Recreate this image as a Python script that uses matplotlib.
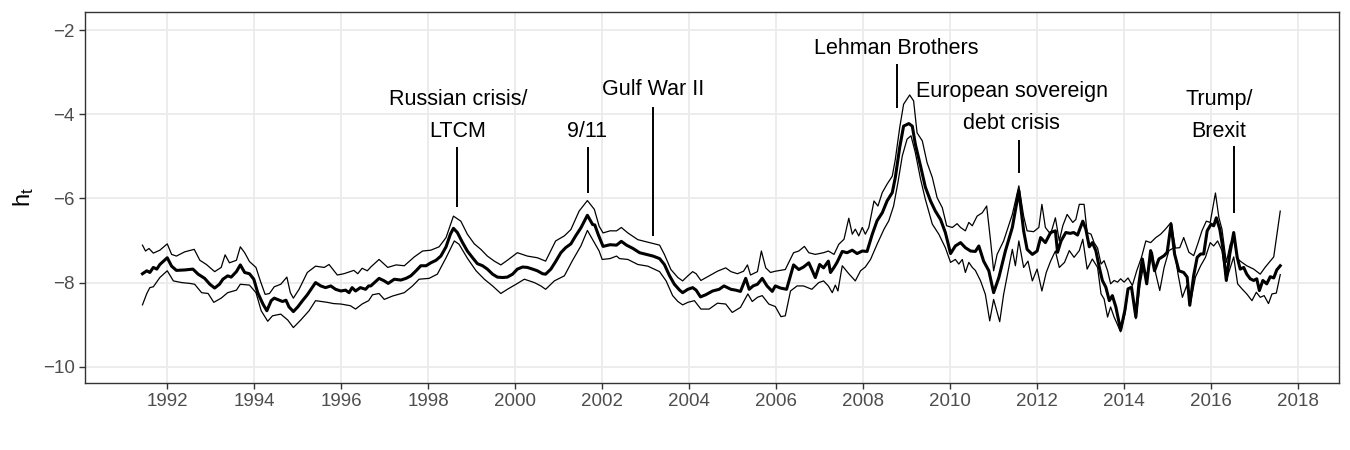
import numpy as np
import matplotlib
matplotlib.use('Agg')
import matplotlib.pyplot as plt

plt.rcParams['font.family'] = ['Liberation Sans', 'DejaVu Sans']
plt.rcParams['mathtext.fontset'] = 'custom'
plt.rcParams['mathtext.rm'] = 'Liberation Sans'
plt.rcParams['mathtext.it'] = 'Liberation Sans'

# posterior median of h_t (decimal year, value)
mid_t = [1991.43, 1991.53, 1991.60, 1991.68, 1991.76, 1991.83, 1992.00, 1992.10, 1992.21, 1992.40,
         1992.59, 1992.71, 1992.86, 1992.98, 1993.09, 1993.20, 1993.28, 1993.39, 1993.47, 1993.59,
         1993.68, 1993.78, 1993.89, 1993.99, 1994.08, 1994.20, 1994.29, 1994.39, 1994.46, 1994.58,
         1994.65, 1994.73, 1994.80, 1994.90, 1995.00, 1995.11, 1995.22, 1995.41, 1995.53, 1995.64,
         1995.76, 1995.87, 1995.99, 1996.10, 1996.18, 1996.25, 1996.33, 1996.44, 1996.56, 1996.63,
         1996.68, 1996.87, 1996.99, 1997.08, 1997.22, 1997.37, 1997.49, 1997.60, 1997.72, 1997.83,
         1997.95, 1998.06, 1998.18, 1998.29, 1998.41, 1998.51, 1998.58, 1998.67, 1998.79, 1998.90,
         1999.02, 1999.13, 1999.25, 1999.36, 1999.48, 1999.59, 1999.71, 1999.82, 1999.94, 2000.05,
         2000.17, 2000.28, 2000.40, 2000.51, 2000.63, 2000.70, 2000.82, 2000.93, 2001.05, 2001.16,
         2001.28, 2001.39, 2001.51, 2001.66, 2001.78,
         2001.83, 2001.91, 2002.02, 2002.18, 2002.33, 2002.44, 2002.56, 2002.71, 2002.86, 2003.01,
         2003.17, 2003.32, 2003.43, 2003.55, 2003.66, 2003.78, 2003.85, 2003.97, 2004.08, 2004.16,
         2004.26, 2004.38, 2004.54, 2004.69, 2004.80, 2004.96, 2005.07, 2005.18, 2005.30, 2005.38,
         2005.47, 2005.57, 2005.68, 2005.79, 2005.91, 2005.98, 2006.10, 2006.24, 2006.40, 2006.52,
         2006.63, 2006.75, 2006.82, 2006.90, 2007.00, 2007.09, 2007.20,
         2007.25, 2007.33, 2007.40, 2007.52, 2007.63, 2007.75, 2007.86, 2007.98, 2008.09, 2008.21,
         2008.32, 2008.44, 2008.55, 2008.67, 2008.74, 2008.84, 2008.93, 2009.05, 2009.13, 2009.20,
         2009.32, 2009.43, 2009.55, 2009.66, 2009.78, 2009.89, 2010.01, 2010.12, 2010.24, 2010.35,
         2010.47, 2010.58, 2010.66, 2010.77, 2010.89, 2011.00, 2011.12, 2011.27, 2011.43, 2011.58,
         2011.69, 2011.77, 2011.89, 2012.00, 2012.08, 2012.19, 2012.31, 2012.42,
         2012.47, 2012.55, 2012.66, 2012.76, 2012.84, 2012.93, 2013.05, 2013.12, 2013.20, 2013.27,
         2013.35, 2013.43, 2013.50, 2013.58, 2013.66, 2013.73, 2013.81, 2013.92, 2014.02, 2014.09,
         2014.17, 2014.27, 2014.34, 2014.42, 2014.52, 2014.61, 2014.70, 2014.80, 2014.92, 2014.99,
         2015.08, 2015.16, 2015.26, 2015.37, 2015.45, 2015.51, 2015.60, 2015.68, 2015.76, 2015.83,
         2015.91, 2016.00, 2016.06, 2016.12, 2016.20, 2016.27, 2016.35, 2016.43, 2016.52, 2016.60,
         2016.67, 2016.75, 2016.82, 2016.90, 2016.98, 2017.05, 2017.11, 2017.19, 2017.28, 2017.36,
         2017.44, 2017.51, 2017.59]
mid_v = [-7.79, -7.72, -7.76, -7.64, -7.68, -7.57, -7.41, -7.61, -7.71, -7.70,
         -7.68, -7.80, -7.90, -8.04, -8.13, -8.04, -7.92, -7.84, -7.87, -7.74,
         -7.58, -7.76, -7.79, -7.92, -8.24, -8.51, -8.67, -8.43, -8.37, -8.42,
         -8.45, -8.42, -8.58, -8.69, -8.58, -8.43, -8.29, -8.00, -8.08, -8.12,
         -8.08, -8.16, -8.20, -8.18, -8.24, -8.12, -8.20, -8.12, -8.16, -8.08,
         -8.08, -7.90, -7.96, -8.02, -7.92, -7.94, -7.90, -7.84, -7.72, -7.60,
         -7.60, -7.53, -7.47, -7.37, -7.15, -6.85, -6.71, -6.81, -7.05, -7.25,
         -7.41, -7.55, -7.60, -7.68, -7.80, -7.87, -7.88, -7.87, -7.80, -7.68,
         -7.63, -7.64, -7.68, -7.72, -7.79, -7.80, -7.68, -7.50, -7.29, -7.17,
         -7.08, -6.89, -6.70, -6.40, -6.62,
         -6.63, -6.86, -7.14, -7.10, -7.11, -7.02, -7.11, -7.19, -7.29, -7.33,
         -7.37, -7.43, -7.57, -7.84, -8.04, -8.18, -8.24, -8.16, -8.12, -8.18,
         -8.34, -8.29, -8.20, -8.16, -8.08, -8.16, -8.18, -8.21, -7.90, -8.16,
         -8.08, -8.04, -7.90, -8.08, -8.21, -8.08, -8.13, -8.16, -7.58, -7.69,
         -7.63, -7.53, -7.69, -7.88, -7.57, -7.65, -7.49,
         -7.76, -7.64, -7.52, -7.26, -7.29, -7.23, -7.31, -7.25, -7.26, -6.85,
         -6.53, -6.34, -6.06, -5.86, -5.50, -4.79, -4.28, -4.22, -4.28, -4.71,
         -5.23, -5.73, -6.06, -6.30, -6.50, -6.81, -7.31, -7.13, -7.05, -7.17,
         -7.25, -7.26, -7.13, -7.49, -7.72, -8.24, -7.88, -7.25, -6.69, -5.82,
         -6.77, -7.21, -7.33, -7.25, -6.93, -7.05, -6.81, -6.77,
         -7.28, -7.01, -6.81, -6.83, -6.81, -6.87, -6.54, -6.73, -7.15, -7.05,
         -7.24, -7.64, -7.95, -8.11, -8.43, -8.31, -8.58, -9.13, -8.65, -8.15,
         -8.11, -8.82, -8.03, -7.44, -8.03, -7.24, -7.72, -7.44, -7.36, -7.28,
         -6.61, -7.32, -7.72, -7.76, -7.87, -8.54, -7.83, -7.40, -7.32, -7.32,
         -6.77, -6.61, -6.65, -6.46, -6.73, -7.17, -7.95, -7.32, -6.81, -7.40,
         -7.68, -7.64, -7.80, -7.91, -7.95, -7.91, -8.19, -7.95, -8.03, -7.86,
         -7.89, -7.70, -7.60]

# upper band
up_t = [1991.43, 1991.50, 1991.58, 1991.68, 1991.83, 1992.00, 1992.10, 1992.21, 1992.40, 1992.62,
        1992.75, 1992.90, 1993.09, 1993.24, 1993.33, 1993.43, 1993.59, 1993.68, 1993.78, 1993.89,
        1994.04, 1994.14, 1994.25, 1994.35, 1994.46, 1994.61, 1994.75, 1994.83, 1994.90, 1995.03,
        1995.22, 1995.41, 1995.61, 1995.72, 1995.91, 1996.06, 1996.29, 1996.38, 1996.48, 1996.60,
        1996.68, 1996.87, 1997.07, 1997.26, 1997.45, 1997.68, 1997.87, 1998.06, 1998.25, 1998.41,
        1998.58, 1998.75, 1998.90, 1999.06, 1999.21, 1999.36, 1999.52, 1999.67, 1999.82, 2000.05,
        2000.28, 2000.51, 2000.70, 2000.93, 2001.13, 2001.28, 2001.47, 2001.66, 2001.82, 2001.93,
        2002.02, 2002.18, 2002.33, 2002.44, 2002.59, 2002.82, 2003.05, 2003.32, 2003.43, 2003.58,
        2003.74, 2003.85, 2003.97, 2004.08, 2004.16, 2004.27, 2004.46, 2004.65, 2004.84, 2004.96,
        2005.11, 2005.25, 2005.34, 2005.41, 2005.57, 2005.66, 2005.76, 2005.87, 2005.98, 2006.21,
        2006.40, 2006.52, 2006.65, 2006.75, 2006.90, 2007.09, 2007.20,
        2007.33, 2007.44, 2007.56, 2007.67, 2007.75, 2007.82, 2007.90, 2007.98, 2008.05, 2008.13,
        2008.25, 2008.34, 2008.44, 2008.55, 2008.67, 2008.74, 2008.84, 2008.93, 2009.07, 2009.16,
        2009.24, 2009.36, 2009.47, 2009.59, 2009.70, 2009.82, 2009.92, 2010.05, 2010.16, 2010.24,
        2010.35, 2010.43, 2010.51, 2010.62, 2010.74, 2010.84, 2010.93, 2011.00, 2011.08, 2011.23,
        2011.43, 2011.58, 2011.69, 2011.77, 2011.92, 2012.04, 2012.11, 2012.19, 2012.31, 2012.42,
        2012.51, 2012.59, 2012.69, 2012.82, 2012.89, 2012.97, 2013.08, 2013.15, 2013.24, 2013.31,
        2013.39, 2013.47, 2013.54, 2013.62, 2013.69, 2013.77, 2013.85, 2013.92, 2014.00, 2014.09,
        2014.19, 2014.29, 2014.40, 2014.50, 2014.61, 2014.73, 2014.84, 2014.95, 2015.08, 2015.18,
        2015.28, 2015.37, 2015.49, 2015.60, 2015.69, 2015.79, 2015.89, 2015.98, 2016.10, 2016.18,
        2016.25, 2016.35, 2016.44, 2016.52, 2016.61, 2016.71, 2016.82, 2016.98, 2017.13, 2017.24,
        2017.44, 2017.59]
up_v = [-7.11, -7.25, -7.19, -7.30, -7.23, -7.08, -7.33, -7.37, -7.27, -7.21,
        -7.47, -7.57, -7.74, -7.64, -7.34, -7.53, -7.47, -7.15, -7.29, -7.50,
        -7.64, -7.96, -8.28, -8.26, -8.10, -8.04, -7.87, -8.24, -8.37, -8.16,
        -7.76, -7.61, -7.64, -7.57, -7.82, -7.79, -7.71, -7.79, -7.66, -7.72,
        -7.63, -7.45, -7.64, -7.58, -7.60, -7.39, -7.25, -7.23, -7.15, -6.93,
        -6.42, -6.54, -6.85, -7.08, -7.21, -7.37, -7.49, -7.58, -7.47, -7.29,
        -7.37, -7.41, -7.49, -7.01, -6.89, -6.74, -6.30, -6.05, -6.26, -6.66,
        -6.82, -6.77, -6.77, -6.69, -6.82, -6.98, -7.04, -7.11, -7.33, -7.69,
        -7.88, -7.96, -7.84, -7.74, -7.79, -7.95, -7.84, -7.73, -7.65, -7.74,
        -7.79, -7.73, -7.58, -7.82, -7.74, -7.25, -7.65, -7.76, -7.73, -7.69,
        -7.29, -7.25, -7.14, -7.29, -7.33, -7.29, -7.25,
        -7.33, -7.09, -6.97, -6.47, -6.85, -6.73, -6.89, -6.69, -6.85, -6.69,
        -6.06, -6.18, -5.86, -5.66, -5.47, -5.07, -4.32, -3.76, -3.54, -3.68,
        -4.44, -4.63, -5.15, -5.50, -5.98, -6.22, -6.65, -6.69, -6.60, -6.69,
        -6.77, -6.57, -6.65, -6.42, -6.34, -6.18, -7.01, -7.72, -7.33, -7.01,
        -6.38, -5.70, -6.42, -6.77, -6.79, -6.69, -6.14, -6.69, -6.85, -6.46,
        -7.01, -6.65, -6.38, -6.57, -6.50, -6.14, -6.14, -6.81, -6.85, -7.05,
        -7.18, -7.56, -7.48, -7.72, -8.03, -7.95, -7.99, -7.91, -7.99, -7.89,
        -8.07, -7.72, -7.40, -7.01, -7.05, -6.93, -6.85, -6.73, -6.57, -7.18,
        -7.17, -6.93, -7.28, -7.36, -7.09, -6.77, -6.54, -6.57, -5.87, -6.46,
        -6.73, -7.52, -7.09, -6.93, -7.44, -7.52, -7.60, -7.68, -7.80, -7.64,
        -7.39, -6.30]

# lower band
lo_t = [1991.43, 1991.53, 1991.60, 1991.68, 1991.83, 1992.00, 1992.14, 1992.33, 1992.52, 1992.63,
        1992.79, 1992.94, 1993.07, 1993.24, 1993.39, 1993.59, 1993.68, 1993.89, 1994.04, 1994.16,
        1994.31, 1994.42, 1994.61, 1994.77, 1994.90, 1995.07, 1995.26, 1995.41, 1995.68, 1995.83,
        1995.99, 1996.21, 1996.33, 1996.48, 1996.63,
        1996.72, 1996.87, 1996.99, 1997.18, 1997.45, 1997.64, 1997.79, 1998.02, 1998.21, 1998.41,
        1998.60, 1998.71, 1998.90, 1999.10, 1999.29, 1999.48, 1999.67, 1999.82, 2000.02, 2000.21,
        2000.44, 2000.59, 2000.70, 2000.90, 2001.13, 2001.32, 2001.51, 2001.66, 2001.82, 2001.93,
        2002.00, 2002.18, 2002.33, 2002.40, 2002.59, 2002.82, 2003.05, 2003.32, 2003.47, 2003.62,
        2003.74, 2003.85, 2003.97, 2004.12, 2004.27, 2004.46, 2004.65, 2004.84, 2004.99, 2005.18,
        2005.35, 2005.45, 2005.57, 2005.68, 2005.83, 2005.98, 2006.11, 2006.21, 2006.33, 2006.48,
        2006.63, 2006.82, 2006.98, 2007.09, 2007.20,
        2007.29, 2007.36, 2007.42, 2007.52, 2007.67, 2007.82, 2007.94, 2008.05, 2008.17, 2008.32,
        2008.48, 2008.59, 2008.70, 2008.80, 2008.90, 2009.01, 2009.10, 2009.20, 2009.32, 2009.43,
        2009.59, 2009.74, 2009.89, 2010.01, 2010.12, 2010.20, 2010.28, 2010.35, 2010.43, 2010.51,
        2010.58, 2010.70, 2010.81, 2010.91, 2011.00, 2011.14, 2011.23, 2011.35, 2011.43, 2011.50,
        2011.58, 2011.69, 2011.79, 2011.89, 2012.00, 2012.11, 2012.21, 2012.31, 2012.42,
        2012.51, 2012.63, 2012.74, 2012.85, 2012.97, 2013.05, 2013.15, 2013.27, 2013.39, 2013.47,
        2013.54, 2013.62, 2013.69, 2013.77, 2013.92, 2014.02, 2014.09, 2014.17, 2014.27, 2014.37,
        2014.44, 2014.53, 2014.65, 2014.73, 2014.82, 2014.92, 2015.03, 2015.15, 2015.24, 2015.34,
        2015.44, 2015.53, 2015.64, 2015.76, 2015.87, 2015.98, 2016.06, 2016.15, 2016.25, 2016.35,
        2016.43, 2016.52, 2016.61, 2016.71, 2016.82, 2016.94, 2017.04, 2017.13, 2017.22, 2017.32,
        2017.40, 2017.50, 2017.59]
lo_v = [-8.53, -8.26, -8.12, -8.10, -7.88, -7.72, -7.96, -8.00, -8.02, -8.04,
        -8.24, -8.26, -8.47, -8.37, -8.24, -8.18, -8.04, -8.06, -8.24, -8.67,
        -8.92, -8.79, -8.75, -8.89, -9.07, -8.89, -8.67, -8.43, -8.47, -8.50,
        -8.51, -8.55, -8.63, -8.51, -8.43,
        -8.29, -8.26, -8.40, -8.32, -8.24, -8.08, -7.92, -7.90, -7.80, -7.41,
        -7.01, -7.09, -7.42, -7.72, -7.92, -8.08, -8.26, -8.16, -8.04, -7.92,
        -8.00, -8.08, -8.16, -7.96, -7.84, -7.47, -7.13, -6.76, -7.05, -7.25,
        -7.45, -7.43, -7.37, -7.43, -7.45, -7.57, -7.61, -7.74, -7.96, -8.31,
        -8.45, -8.53, -8.47, -8.43, -8.63, -8.63, -8.49, -8.51, -8.71, -8.59,
        -8.27, -8.45, -8.35, -8.31, -8.51, -8.57, -8.81, -8.79, -8.20, -8.08,
        -8.08, -8.16, -8.00, -7.96, -8.08,
        -8.24, -8.06, -8.20, -7.60, -7.79, -7.96, -7.72, -7.63, -7.45, -7.09,
        -6.73, -6.53, -6.18, -5.62, -4.99, -4.59, -4.51, -4.91, -5.54, -6.02,
        -6.61, -6.85, -7.17, -7.52, -7.45, -7.56, -7.45, -7.76, -7.52, -7.64,
        -7.71, -7.96, -8.28, -8.91, -8.40, -8.93, -8.28, -7.64, -7.21, -7.60,
        -7.01, -7.64, -7.49, -7.96, -7.68, -8.20, -7.76, -7.49, -7.25,
        -7.64, -7.52, -7.24, -7.40, -7.24, -6.97, -7.68, -7.44, -7.64, -8.27,
        -8.39, -8.82, -8.58, -8.82, -9.17, -8.74, -8.15, -8.11, -8.86, -8.03,
        -7.64, -7.83, -7.28, -7.80, -8.19, -7.64, -7.24, -7.17, -7.80, -8.35,
        -8.07, -8.46, -7.87, -7.60, -7.40, -7.05, -7.13, -7.01, -7.24, -7.95,
        -7.68, -7.39, -8.03, -8.15, -8.27, -8.43, -8.23, -8.35, -8.31, -8.50,
        -8.27, -8.25, -7.81]

# event annotations: label, text position, segment (x, y_top, y_bottom)
ev_labels = ['Russian crisis/\nLTCM', '9/11', 'Gulf War II', 'Lehman Brothers',
             'European sovereign\ndebt crisis', 'Trump/\nBrexit']
ev_text_x = [1998.68, 2001.65, 2003.16, 2008.77, 2011.42, 2016.18]
ev_text_y = [-4.02, -4.41, -3.42, -2.43, -3.83, -4.02]
ev_seg_x = [1998.66, 2001.67, 2003.16, 2008.77, 2011.58, 2016.52]
ev_seg_top = [-4.78, -4.78, -3.82, -2.81, -4.60, -4.76]
ev_seg_bot = [-6.21, -5.87, -6.90, -3.84, -5.39, -6.34]

x_ticks = list(range(1992, 2019, 2))
y_ticks = [-10, -8, -6, -4, -2]

fig = plt.figure(figsize=(13.5, 4.5), dpi=100)
ax = fig.add_axes([0.063, 0.1496, 0.9285, 0.8244])

ax.plot(up_t, up_v, color='black', lw=0.9)
ax.plot(lo_t, lo_v, color='black', lw=0.9)
ax.plot(mid_t, mid_v, color='black', lw=2.2)

for lab, tx, ty in zip(ev_labels, ev_text_x, ev_text_y):
    ax.text(tx, ty, lab, ha='center', va='center', fontsize=15.5, linespacing=1.7,
            color='black')
ax.vlines(ev_seg_x, ev_seg_bot, ev_seg_top, color='black', lw=1.4)

ax.set_xlim(1990.11, 2018.93)
ax.set_ylim(-10.38, -1.56)
ax.set_xticks(x_ticks)
ax.set_yticks(y_ticks)
ax.set_yticklabels(['\u2212' + str(-v) for v in y_ticks])
ax.grid(True, color='#EBEBEB', lw=1.3)
ax.set_axisbelow(True)
for s in ax.spines.values():
    s.set_color('#333333')
    s.set_linewidth(1.0)
ax.tick_params(colors='#333333', labelcolor='#4D4D4D', labelsize=13.5, length=4, width=1.0)
ax.set_ylabel(r'$\mathrm{h}_\mathrm{t}$', fontsize=17, labelpad=5)

fig.savefig('out.png', dpi=100)
